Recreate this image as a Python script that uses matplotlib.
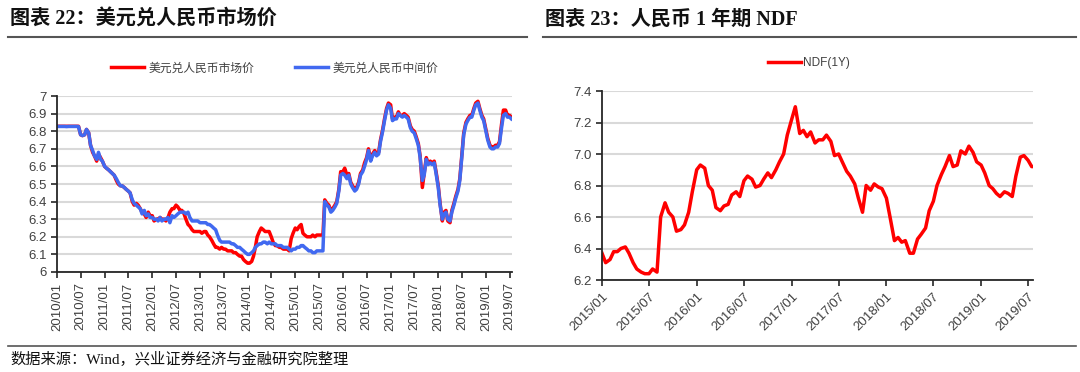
import numpy as np
import pandas as pd
import matplotlib
matplotlib.use('Agg')
import matplotlib.pyplot as plt
from matplotlib.lines import Line2D

plt.rcParams['font.family'] = ['Liberation Sans', 'Noto Sans CJK SC']

# semi-monthly readings (1st, 15th), USD/CNY central parity
mid_2010 = [6.827, 6.827, 6.827, 6.827, 6.827, 6.826, 6.827, 6.827, 6.827, 6.827, 6.827, 6.826,
            6.780, 6.775, 6.780, 6.810, 6.790, 6.720, 6.690, 6.660, 6.640, 6.680, 6.640, 6.630]
mid_2011 = [6.60, 6.59, 6.58, 6.57, 6.56, 6.55, 6.53, 6.51, 6.49, 6.49, 6.48, 6.47,
            6.46, 6.45, 6.41, 6.39, 6.38, 6.37, 6.36, 6.33, 6.35, 6.32, 6.33, 6.31]
mid_2012 = [6.31, 6.30, 6.30, 6.29, 6.31, 6.29, 6.30, 6.30, 6.31, 6.28, 6.32, 6.31,
            6.32, 6.33, 6.34, 6.34, 6.34, 6.33, 6.34, 6.31, 6.29, 6.29, 6.29, 6.29]
mid_2013 = [6.28, 6.28, 6.28, 6.28, 6.27, 6.27, 6.26, 6.25, 6.24, 6.21, 6.18, 6.17,
            6.17, 6.17, 6.17, 6.17, 6.16, 6.16, 6.15, 6.14, 6.14, 6.13, 6.12, 6.11]
mid_2014 = [6.10, 6.10, 6.11, 6.12, 6.14, 6.15, 6.16, 6.16, 6.17, 6.17, 6.16, 6.17,
            6.16, 6.16, 6.16, 6.15, 6.15, 6.15, 6.14, 6.14, 6.14, 6.13, 6.12, 6.13]
mid_2015 = [6.13, 6.14, 6.14, 6.15, 6.15, 6.14, 6.13, 6.12, 6.12, 6.11, 6.11, 6.12,
            6.12, 6.12, 6.12, 6.40, 6.38, 6.37, 6.34, 6.35, 6.37, 6.39, 6.46, 6.55]
mid_2016 = [6.56, 6.55, 6.53, 6.55, 6.50, 6.48, 6.46, 6.47, 6.50, 6.55, 6.57, 6.60,
            6.64, 6.69, 6.63, 6.66, 6.68, 6.66, 6.67, 6.74, 6.80, 6.86, 6.92, 6.95]
mid_2017 = [6.93, 6.86, 6.87, 6.87, 6.90, 6.89, 6.88, 6.89, 6.88, 6.87, 6.82, 6.80,
            6.79, 6.76, 6.72, 6.65, 6.52, 6.55, 6.64, 6.61, 6.62, 6.61, 6.62, 6.56]
mid_2018 = [6.48, 6.38, 6.30, 6.33, 6.34, 6.30, 6.29, 6.34, 6.38, 6.42, 6.46, 6.52,
            6.66, 6.78, 6.84, 6.86, 6.88, 6.88, 6.92, 6.95, 6.96, 6.92, 6.88, 6.86]
mid_2019 = [6.80, 6.75, 6.71, 6.70, 6.70, 6.71, 6.71, 6.73, 6.82, 6.89, 6.90, 6.88,
            6.88, 6.87]

# market rate
mkt_2010 = [6.828, 6.828, 6.828, 6.828, 6.828, 6.828, 6.828, 6.828, 6.828, 6.828, 6.828, 6.828,
            6.780, 6.775, 6.780, 6.810, 6.790, 6.720, 6.680, 6.660, 6.630, 6.670, 6.650, 6.630]
mkt_2011 = [6.60, 6.59, 6.58, 6.57, 6.56, 6.55, 6.52, 6.50, 6.49, 6.49, 6.48, 6.47,
            6.46, 6.45, 6.40, 6.38, 6.39, 6.38, 6.36, 6.34, 6.33, 6.31, 6.34, 6.32]
mkt_2012 = [6.32, 6.29, 6.30, 6.30, 6.31, 6.30, 6.30, 6.29, 6.31, 6.34, 6.36, 6.36,
            6.38, 6.37, 6.35, 6.35, 6.33, 6.30, 6.27, 6.26, 6.24, 6.23, 6.23, 6.23]
mkt_2013 = [6.23, 6.22, 6.23, 6.23, 6.21, 6.20, 6.18, 6.16, 6.14, 6.14, 6.13, 6.14,
            6.13, 6.13, 6.12, 6.12, 6.12, 6.11, 6.11, 6.10, 6.09, 6.09, 6.07, 6.06]
mkt_2014 = [6.05, 6.05, 6.06, 6.09, 6.14, 6.20, 6.23, 6.25, 6.24, 6.23, 6.23, 6.23,
            6.20, 6.17, 6.15, 6.15, 6.14, 6.14, 6.13, 6.13, 6.13, 6.12, 6.19, 6.22]
mkt_2015 = [6.25, 6.24, 6.26, 6.27, 6.22, 6.21, 6.20, 6.20, 6.20, 6.21, 6.20, 6.21,
            6.21, 6.21, 6.21, 6.41, 6.39, 6.38, 6.35, 6.36, 6.38, 6.40, 6.47, 6.57]
mkt_2016 = [6.57, 6.59, 6.55, 6.56, 6.51, 6.49, 6.47, 6.48, 6.51, 6.56, 6.58, 6.62,
            6.65, 6.70, 6.64, 6.67, 6.69, 6.67, 6.68, 6.75, 6.81, 6.87, 6.93, 6.96]
mkt_2017 = [6.95, 6.87, 6.88, 6.88, 6.91, 6.89, 6.89, 6.90, 6.89, 6.88, 6.83, 6.81,
            6.80, 6.77, 6.73, 6.66, 6.48, 6.56, 6.65, 6.62, 6.63, 6.62, 6.63, 6.57]
mkt_2018 = [6.49, 6.39, 6.29, 6.34, 6.35, 6.29, 6.28, 6.35, 6.39, 6.43, 6.47, 6.53,
            6.67, 6.79, 6.85, 6.87, 6.89, 6.89, 6.93, 6.96, 6.97, 6.93, 6.89, 6.87]
mkt_2019 = [6.81, 6.76, 6.72, 6.71, 6.71, 6.72, 6.72, 6.74, 6.84, 6.92, 6.92, 6.89,
            6.89, 6.88]

# 1Y NDF
ndf_2015 = [6.37, 6.31, 6.33, 6.38, 6.38, 6.40, 6.41, 6.37, 6.31, 6.27, 6.25, 6.24,
            6.24, 6.27, 6.25, 6.60, 6.69, 6.63, 6.60, 6.51, 6.52, 6.55, 6.63, 6.76]
ndf_2016 = [6.90, 6.93, 6.91, 6.80, 6.77, 6.66, 6.64, 6.67, 6.68, 6.74, 6.76, 6.73,
            6.83, 6.86, 6.84, 6.79, 6.80, 6.84, 6.88, 6.85, 6.90, 6.95, 7.00, 7.12]
ndf_2017 = [7.22, 7.30, 7.13, 7.15, 7.11, 7.14, 7.07, 7.09, 7.09, 7.12, 7.08, 6.99,
            7.00, 6.95, 6.89, 6.86, 6.81, 6.72, 6.63, 6.80, 6.77, 6.81, 6.79, 6.78]
ndf_2018 = [6.72, 6.60, 6.45, 6.47, 6.44, 6.45, 6.37, 6.37, 6.46, 6.49, 6.53, 6.64,
            6.70, 6.80, 6.87, 6.92, 6.99, 6.92, 6.93, 7.02, 7.00, 7.05, 7.01, 6.95]
ndf_2019 = [6.93, 6.88, 6.80, 6.78, 6.75, 6.73, 6.76, 6.75, 6.73, 6.86, 6.98, 6.99,
            6.96, 6.92, 6.92]

mid = mid_2010 + mid_2011 + mid_2012 + mid_2013 + mid_2014 + mid_2015 + mid_2016 + mid_2017 + mid_2018 + mid_2019
mkt = mkt_2010 + mkt_2011 + mkt_2012 + mkt_2013 + mkt_2014 + mkt_2015 + mkt_2016 + mkt_2017 + mkt_2018 + mkt_2019
ndf = ndf_2015 + ndf_2016 + ndf_2017 + ndf_2018 + ndf_2019

left_dates = pd.date_range('2010-01-01', periods=len(mid), freq='SMS')
ndf_dates = pd.date_range('2015-01-01', periods=len(ndf), freq='SMS')

left_ticks = pd.date_range('2010-01-01', '2019-07-01', freq='6MS')
right_ticks = pd.date_range('2015-01-01', '2019-07-01', freq='6MS')

RED = '#FF0000'
BLUE = '#4169F0'
GRID = '#D9D9D9'
TXT = '#404040'

fig = plt.figure(figsize=(10.8, 3.72), dpi=100)


def style_axes(ax):
    for s in ['top', 'right']:
        ax.spines[s].set_visible(False)
    for s in ['left', 'bottom']:
        ax.spines[s].set_color('#262626')
        ax.spines[s].set_linewidth(1.3)
    ax.grid(True, axis='y', color=GRID, linewidth=1.5)
    ax.set_axisbelow(True)
    ax.tick_params(axis='both', colors='#262626', labelcolor=TXT, length=4, width=1.2, labelsize=9.5)


# left chart
ax1 = fig.add_axes([57 / 1080, 1 - 272 / 372, (512 - 57) / 1080, (272 - 96) / 372])
ax1.plot(left_dates, mkt, color=RED, linewidth=2.5, label='美元兑人民币市场价')
ax1.plot(left_dates, mid, color=BLUE, linewidth=2.5, label='美元兑人民币中间价')
ax1.set_ylim(6, 7)
ax1.set_yticks(np.arange(6, 7.01, 0.1))
ax1.set_yticklabels(['%g' % round(v, 1) for v in np.arange(6, 7.01, 0.1)])
ax1.set_xlim(pd.Timestamp('2010-01-01'), pd.Timestamp('2019-07-20'))
ax1.set_xticks(left_ticks)
ax1.set_xticklabels([d.strftime('%Y/%m') for d in left_ticks], rotation=90)
style_axes(ax1)
ax1.legend(loc='lower center', bbox_to_anchor=(0.478, 1.062), ncol=2, frameon=False,
           fontsize=8.5, handlelength=2.8, handletextpad=0.4, columnspacing=3.4,
           labelcolor=TXT)

# right chart
ax2 = fig.add_axes([602 / 1080, 1 - 280 / 372, (1033 - 602) / 1080, (280 - 91) / 372])
ax2.plot(ndf_dates, ndf, color=RED, linewidth=2.5, label='NDF(1Y)')
ax2.set_ylim(6.2, 7.4)
ax2.set_yticks(np.arange(6.2, 7.41, 0.2))
ax2.set_yticklabels(['%.1f' % v for v in np.arange(6.2, 7.41, 0.2)])
ax2.set_xlim(pd.Timestamp('2015-01-01'), pd.Timestamp('2019-07-20'))
ax2.set_xticks(right_ticks)
ax2.set_xticklabels([d.strftime('%Y/%m') for d in right_ticks], rotation=45,
                    ha='right', rotation_mode='anchor')
style_axes(ax2)
ax2.legend(loc='lower center', bbox_to_anchor=(0.48, 1.06), frameon=False,
           fontsize=8.5, handlelength=2.8, handletextpad=0.2, labelcolor=TXT)

# titles and separators
title_font = ['Liberation Serif', 'Noto Sans CJK SC']
fig.text(10 / 1080, 1 - 20 / 372, '图表 22：美元兑人民币市场价', fontsize=14.5,
         fontweight='bold', family=title_font, va='center', ha='left', color='#111111')
fig.text(545 / 1080, 1 - 20 / 372, '图表 23：人民币 1 年期 NDF', fontsize=14.5,
         fontweight='bold', family=title_font, va='center', ha='left', color='#111111')
fig.add_artist(Line2D([8 / 1080, 527 / 1080], [1 - 37 / 372, 1 - 37 / 372], color='#555555', linewidth=1.5))
fig.add_artist(Line2D([543 / 1080, 1076 / 1080], [1 - 37 / 372, 1 - 37 / 372], color='#555555', linewidth=1.5))
fig.add_artist(Line2D([8 / 1080, 1076 / 1080], [1 - 346 / 372, 1 - 346 / 372], color='#555555', linewidth=1.2))
fig.text(10 / 1080, 1 - 359 / 372, '数据来源：Wind，兴业证券经济与金融研究院整理', fontsize=11,
         family=title_font, va='center', ha='left', color='#111111')

fig.savefig('out.png', dpi=100)
